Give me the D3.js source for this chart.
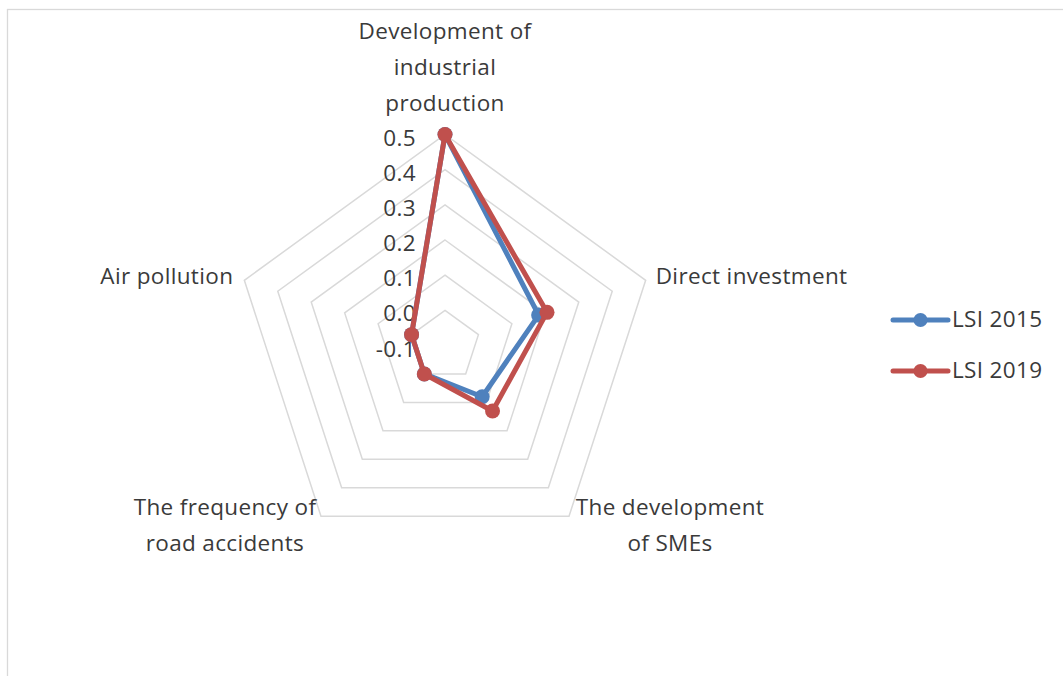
<!DOCTYPE html>
<html>
<head>
<meta charset="utf-8">
<script src="https://cdn.jsdelivr.net/npm/d3@7"></script>
<style>
  html, body { margin: 0; padding: 0; background: #fff; }
  svg { display: block; }
  text { font-family: "Open Sans", "Lato", sans-serif; fill: #3a3a3a; letter-spacing: 0.35px; }
</style>
</head>
<body>
<svg id="chart" width="1063" height="676"></svg>
<script>
// ---- data ----
const categories = [
  ["Development of", "industrial", "production"],
  ["Direct investment"],
  ["The development", "of SMEs"],
  ["The frequency of", "road accidents"],
  ["Air pollution"]
];
const seriesNames = ["LSI 2015", "LSI 2019"];
const lsi2015 = [0.50, 0.18, 0.08, 0.00, 0.00];
const lsi2019 = [0.50, 0.205, 0.13, 0.00, 0.00];
const tickValues = [-0.1, 0.0, 0.1, 0.2, 0.3, 0.4, 0.5];
const tickLabels = ["-0.1", "0.0", "0.1", "0.2", "0.3", "0.4", "0.5"];
const colors = ["#4f81bd", "#c0504d"];

// ---- layout ----
const cx = 445, cy = 345.5, R = 211;
const fontSize = 22.5;
const svg = d3.select("#chart");

svg.append("rect")
  .attr("x", 7.5).attr("y", 9.5).attr("width", 1100).attr("height", 700)
  .attr("fill", "#fff").attr("stroke", "#d9d9d9").attr("stroke-width", 1.3);

const r = d3.scaleLinear().domain([-0.1, 0.5]).range([0, R]);
const angle = d3.scaleLinear().domain([0, categories.length]).range([0, 2 * Math.PI]);
const pt = (i, v) => {
  const a = angle(i);
  return [cx + r(v) * Math.sin(a), cy - r(v) * Math.cos(a)];
};

const g = svg.append("g");

// grid rings
tickValues.slice(1).forEach(t => {
  const pts = categories.map((c, i) => pt(i, t));
  g.append("path")
    .attr("d", d3.line()(pts) + "Z")
    .attr("fill", "none").attr("stroke", "#d9d9d9").attr("stroke-width", 1.5);
});

// value axis labels
tickValues.forEach((t, k) => {
  g.append("text")
    .attr("x", cx - 29).attr("y", cy - r(t) + 5)
    .attr("text-anchor", "end").attr("dominant-baseline", "middle")
    .style("font-size", fontSize + "px")
    .text(tickLabels[k]);
});

// series
const data = [lsi2015, lsi2019];
data.forEach((vals, s) => {
  const pts = vals.map((v, i) => pt(i, v));
  g.append("path")
    .attr("d", d3.line()(pts) + "Z")
    .attr("fill", "none").attr("stroke", colors[s])
    .attr("stroke-width", 5).attr("stroke-linejoin", "round");
  g.selectAll(null).data(pts).enter().append("circle")
    .attr("cx", d => d[0]).attr("cy", d => d[1]).attr("r", 7.5)
    .attr("fill", colors[s]);
});

// category labels
const lineH = 36;
const labelSpec = [
  { dx: 0, dy: -96, anchor: "middle" },
  { dx: 10, dy: 4, anchor: "start" },
  { dx: 101, dy: -1, anchor: "middle" },
  { dx: -96, dy: -1, anchor: "middle" },
  { dx: -11, dy: 4, anchor: "end" }
];
categories.forEach((lines, i) => {
  const [vx, vy] = pt(i, 0.5);
  const sp = labelSpec[i];
  const t = g.append("text")
    .attr("text-anchor", sp.anchor)
    .style("font-size", fontSize + "px");
  lines.forEach((ln, j) => {
    t.append("tspan").attr("x", vx + sp.dx).attr("y", vy + sp.dy + j * lineH).text(ln);
  });
});

// legend
const lg = svg.append("g");
seriesNames.forEach((name, s) => {
  const y = 320 + s * 51;
  lg.append("line").attr("x1", 893).attr("x2", 948).attr("y1", y).attr("y2", y)
    .attr("stroke", colors[s]).attr("stroke-width", 5).attr("stroke-linecap", "round");
  lg.append("circle").attr("cx", 920.5).attr("cy", y).attr("r", 7).attr("fill", colors[s]);
  lg.append("text").attr("x", 952).attr("y", y + 7)
    .style("font-size", fontSize + "px").text(name);
});
</script>
</body>
</html>
